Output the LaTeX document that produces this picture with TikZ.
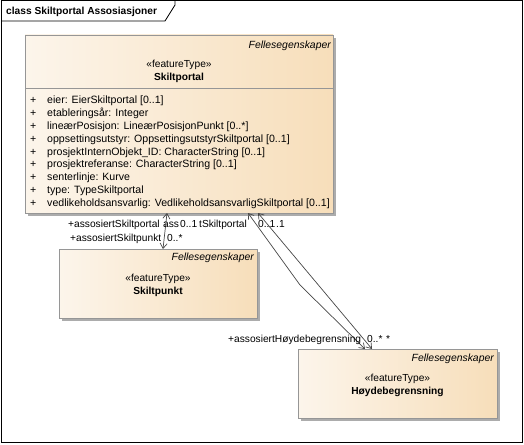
\documentclass[tikz,border=0pt]{standalone}
\usepackage{fontspec}
\setmainfont{Liberation Sans}
\usetikzlibrary{arrows.meta,shadows,calc}
\definecolor{boxL}{RGB}{252,245,235}
\definecolor{boxR}{RGB}{247,222,186}
\definecolor{boxB}{RGB}{150,150,150}
\definecolor{conn}{RGB}{70,70,70}
\definecolor{shad}{RGB}{172,172,172}
\begin{document}
\begin{tikzpicture}[x=1pt,y=-1pt,
  umlbox/.style={draw=boxB, line width=0.9pt, left color=boxL, right color=boxR,
    inner sep=0pt, outer sep=0pt, anchor=north west,
    general shadow={fill=shad, shadow xshift=3pt, shadow yshift=-3pt}},
  txt/.style={inner sep=0pt, font=\fontsize{10.2}{12}\selectfont},
  lw/.style={txt, anchor=base west},
  le/.style={txt, anchor=base east},
  lc/.style={txt, anchor=base},
  attr/.style={lw, font=\fontsize{10.6}{12}\selectfont},
  assoc/.style={draw=conn, line width=0.7pt, {Straight Barb[length=5pt,width=7pt]}-{Straight Barb[length=5pt,width=7pt]}}]
\useasboundingbox (0,0) rectangle (524,444);
% frame
\draw[line width=1pt] (1,1) rectangle (522,442);
\draw[line width=0.8pt] (1,21) -- (165,21) -- (175,5) -- (175,1);
\node[lw, font=\fontsize{10.2}{12}\selectfont\bfseries] (title) at (6,14.6) {class Skiltportal Assosiasjoner};

% boxes
\node[umlbox, minimum width=308pt, minimum height=178pt] (portal) at (25,35) {};
\node[umlbox, minimum width=198pt, minimum height=69pt] (punkt) at (59,249) {};
\node[umlbox, minimum width=199pt, minimum height=69pt] (hoyde) at (298,349) {};

% Skiltportal content
\draw[boxB, line width=0.9pt] ($(portal.north west)+(0,53)$) -- ($(portal.north east)+(0,53)$);
\node[le, font=\fontsize{10.4}{12}\selectfont\itshape] (pf) at (331,48.6) {Fellesegenskaper};
\node[lc] (ps) at (179,67.6) {«featureType»};
\node[lc, font=\fontsize{10.2}{12}\selectfont\bfseries] (pn) at (179,80.6) {Skiltportal};
\foreach \t [count=\i from 0] in {
  eier: EierSkiltportal [0..1],
  etableringsår: Integer,
  lineærPosisjon: LineærPosisjonPunkt [0..*],
  oppsettingsutstyr: OppsettingsutstyrSkiltportal [0..1],
  prosjektInternObjekt\_ID: CharacterString [0..1],
  prosjektreferanse: CharacterString [0..1],
  senterlinje: Kurve,
  type: TypeSkiltportal,
  vedlikeholdsansvarlig: VedlikeholdsansvarligSkiltportal [0..1]} {
  \node[attr] (pp\i) at (30,103.6+12.85*\i) {+};
  \node[attr] (pa\i) at (47,103.6+12.85*\i) {\t};
}

% Skiltpunkt content
\node[le, font=\fontsize{10.4}{12}\selectfont\itshape] (kf) at (254,260.6) {Fellesegenskaper};
\node[lc] (ks) at (158,281.6) {«featureType»};
\node[lc, font=\fontsize{10.2}{12}\selectfont\bfseries] (kn) at (158,294.6) {Skiltpunkt};

% Hoydebegrensning content
\node[le, font=\fontsize{10.4}{12}\selectfont\itshape] (hf) at (494,361.6) {Fellesegenskaper};
\node[lc] (hs) at (397.5,381.6) {«featureType»};
\node[lc, font=\fontsize{10.2}{12}\selectfont\bfseries] (hn) at (397.5,394.6) {Høydebegrensning};

% connectors
\coordinate (c1a) at ($(portal.south west)+(142,0)$);
\coordinate (c1b) at ($(punkt.north west)+(104,0)$);
\draw[assoc] (c1a) -- (c1b);
\coordinate (c2a) at ($(portal.south west)+(223,0)$);
\coordinate (c2m) at (300,285);
\coordinate (c2b) at ($(hoyde.north west)+(67,0)$);
\draw[assoc] (c2a) -- (c2m) -- (c2b);
\coordinate (c3a) at ($(portal.south west)+(233,0)$);
\coordinate (c3b) at ($(hoyde.north west)+(74,0)$);
\draw[assoc] (c3a) -- (c3b);

% connector labels
\node[lw] (l1) at (68,227.6) {+assosiertSkiltportal};
\node[lw] (l2) at (163,227.6) {ass};
\node[lw] (l3) at (180,227.6) {0..1};
\node[lw] (l4) at (199,227.6) {tSkiltportal};
\node[lw] (l5) at (258,227.6) {0..1};
\node[lw] (l6) at (276,227.6) {.1};
\node[lw] (l7) at (70,241.6) {+assosiertSkiltpunkt};
\node[lw] (l8) at (167,241.6) {0..*};
\node[lw] (l9) at (228,342.6) {+assosiertHøydebegrensning};
\node[lw] (l10) at (367,342.6) {0..*};
\node[lw] (l11) at (386,342.6) {*};
\end{tikzpicture}
\end{document}
